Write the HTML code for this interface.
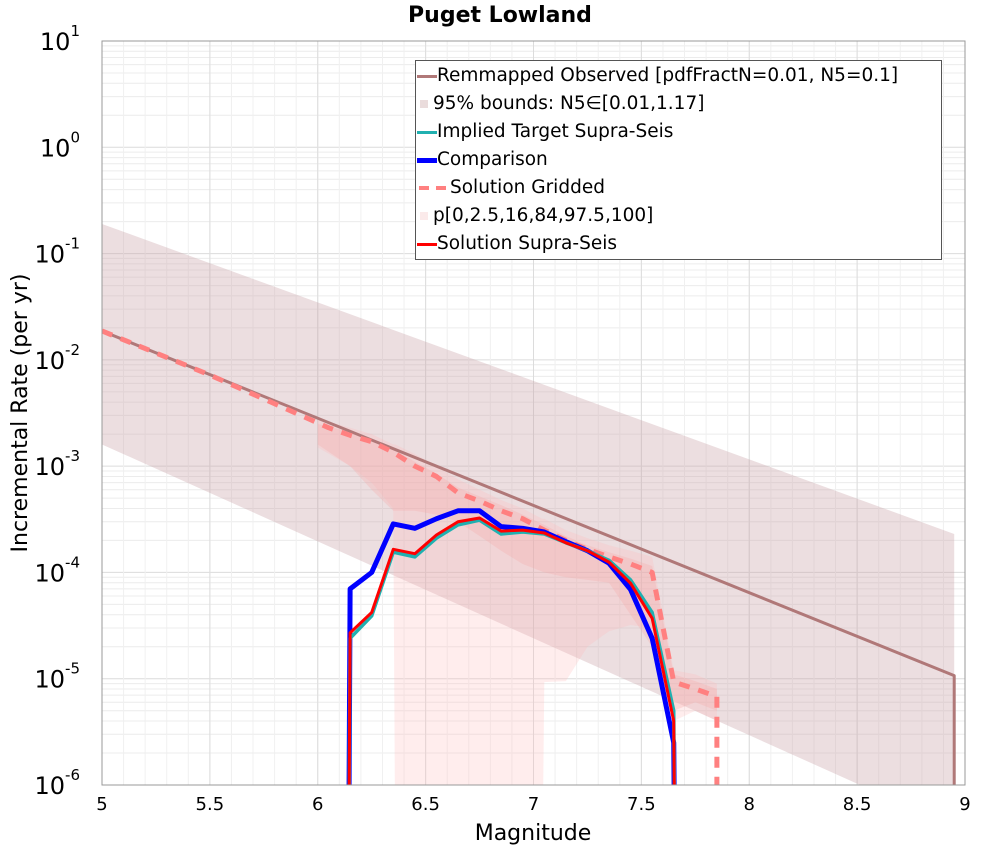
<!DOCTYPE html>
<html><head><meta charset="utf-8"><style>
html,body{margin:0;background:#fff;font-family:"DejaVu Sans","Liberation Sans",sans-serif;width:1000px;height:850px;overflow:hidden;position:relative}
svg text{font-family:"DejaVu Sans","Liberation Sans",sans-serif}
</style></head><body>
<svg id="c" width="1000" height="850" xmlns="http://www.w3.org/2000/svg" style="position:absolute;left:0;top:0"></svg>
<script>
const xTicks=[5,5.5,6,6.5,7,7.5,8,8.5,9];
const xTickLabels=["5","5.5","6","6.5","7","7.5","8","8.5","9"];
const yDecades=[1,0,-1,-2,-3,-4,-5,-6];
const obsMags=[5,8.95,8.95];
const obsVals=[0.0187,1.07e-5,1e-8];
const boundMags=[5,8.95];
const boundUpper=[0.19,2.3e-4];
const boundLower=[1.6e-3,4e-7];
const outerMags=[6.0,6.15,6.25,6.35,6.36,6.45,6.55,6.65,6.75,6.85,6.95,7.04,7.05,7.15,7.25,7.35,7.45,7.55,7.65,7.75,7.85];
const outerUpper=[2.8e-3,2.3e-3,2.0e-3,1.6e-3,1.6e-3,1.3e-3,1.0e-3,7.5e-4,6e-4,4.8e-4,4e-4,3.2e-4,3.2e-4,2.5e-4,2.1e-4,1.8e-4,1.6e-4,1.4e-4,1.2e-5,1.1e-5,9e-6];
const outerLower=[1.5e-3,1e-3,7e-4,4e-4,1e-7,1e-7,1e-7,1e-7,1e-7,1e-7,1e-7,1e-7,9.3e-6,9.5e-6,2e-5,2.8e-5,3.2e-5,3e-5,4e-6,5e-6,4e-6];
const innerMags=[6.0,6.15,6.25,6.35,6.45,6.55,6.65,6.75,6.85,6.95,7.05,7.15,7.25,7.35,7.45,7.55,7.65,7.75,7.85];
const innerUpper=[2.5e-3,2.1e-3,1.8e-3,1.45e-3,1.1e-3,8.5e-4,6.3e-4,5.2e-4,4.3e-4,3.5e-4,2.8e-4,2.2e-4,1.8e-4,1.55e-4,1.35e-4,1.15e-4,1.1e-5,9.5e-6,8e-6];
const innerLower=[1.6e-3,1e-3,6e-4,3.8e-4,3.8e-4,3.5e-4,3e-4,2.2e-4,1.6e-4,1.2e-4,1e-4,9e-5,8.5e-5,8e-5,4e-5,2e-5,5e-6,6e-6,5e-6];
const gridMags=[5,5.5,6.05,6.15,6.25,6.35,6.45,6.55,6.65,6.75,6.85,6.95,7.05,7.15,7.25,7.35,7.45,7.55,7.65,7.75,7.85,7.85];
const gridVals=[0.0187,7.2e-3,2.3e-3,1.95e-3,1.7e-3,1.35e-3,1.0e-3,8e-4,5.6e-4,4.7e-4,3.8e-4,3.2e-4,2.5e-4,2.0e-4,1.65e-4,1.4e-4,1.2e-4,1.0e-4,9.3e-6,8e-6,6.8e-6,1e-8];
const supMags=[6.14,6.15,6.25,6.35,6.45,6.55,6.65,6.75,6.85,6.95,7.05,7.15,7.25,7.35,7.45,7.55,7.65,7.66];
const compVals=[1e-8,7e-5,1.0e-4,2.86e-4,2.6e-4,3.2e-4,3.8e-4,3.8e-4,2.7e-4,2.6e-4,2.4e-4,1.95e-4,1.6e-4,1.22e-4,6.9e-5,2.4e-5,2.5e-6,1e-8];
const targetVals=[1e-8,2.4e-5,3.9e-5,1.55e-4,1.4e-4,2.1e-4,2.8e-4,3.1e-4,2.3e-4,2.4e-4,2.3e-4,1.9e-4,1.6e-4,1.3e-4,8.5e-5,4.2e-5,5e-6,1e-8];
const solVals=[1e-8,2.7e-5,4.2e-5,1.65e-4,1.5e-4,2.25e-4,3.0e-4,3.25e-4,2.45e-4,2.5e-4,2.35e-4,1.9e-4,1.6e-4,1.25e-4,7.9e-5,3.7e-5,4e-6,1e-8];

const L=102,R=965,T=41,B=785;
const X=m=>L+(m-5)/4*(R-L);
const Y=v=>T+(1-Math.log10(v))/7*(B-T);
const NS="http://www.w3.org/2000/svg";
const svg=document.getElementById('c');
function mk(tag,attrs,parent){const e=document.createElementNS(NS,tag);for(const k in attrs)e.setAttribute(k,attrs[k]);(parent||svg).appendChild(e);return e;}
const defs=mk('defs',{});
const cp=mk('clipPath',{id:'clip'},defs);mk('rect',{x:L,y:T,width:R-L,height:B-T},cp);

const grid=mk('g',{});


for(const d of yDecades){ if(d>-6){for(let k=2;k<10;k++){const y=Y(k*Math.pow(10,d-1));mk('line',{x1:L,x2:R,y1:y,y2:y,stroke:'#ececec','stroke-width':1},grid);}}
  const y=Y(Math.pow(10,d));mk('line',{x1:L,x2:R,y1:y,y2:y,stroke:'#dcdcdc','stroke-width':1},grid);}
for(let m=5;m<=9.001;m+=0.1){const x=X(m);mk('line',{x1:x,x2:x,y1:T,y2:B,stroke:'#f0f0f0','stroke-width':1},grid);}
for(const t of xTicks){const x=X(t);mk('line',{x1:x,x2:x,y1:T,y2:B,stroke:'#dcdcdc','stroke-width':1},grid);}

const plot=mk('g',{'clip-path':'url(#clip)'});
function band(mags,up,lo,fill,name){
  let pts=mags.map((m,i)=>X(m)+','+Y(up[i]));
  for(let i=mags.length-1;i>=0;i--)pts.push(X(mags[i])+','+Y(lo[i]));
  const p=mk('polygon',{points:pts.join(' '),fill:fill},plot);
  
  
}
function line(mags,vals,stroke,w,name,dash){
  const a={points:mags.map((m,i)=>X(m)+','+Y(vals[i])).join(' '),fill:'none',stroke:stroke,'stroke-width':w,'stroke-linejoin':'round'};
  if(dash)a['stroke-dasharray']=dash;
  const p=mk('polyline',a,plot);
  
  
}
band(boundMags.concat([8.95]),boundUpper.concat([1e-9]),boundLower.concat([1e-9]),'rgba(200,160,165,0.35)','observed-95-bounds');
band(outerMags,outerUpper,outerLower,'rgba(255,185,185,0.25)','percentile-outer-band');
band(innerMags,innerUpper,innerLower,'rgba(245,170,170,0.3)','percentile-inner-band');
line(obsMags,obsVals,'#b07878',3,'remapped-observed-line');
line(gridMags,gridVals,'#ff8080',5,'solution-gridded-line','11,9');
line(supMags,compVals,'#0000ff',5,'comparison-line');
line(supMags,targetVals,'#20b0b0',3.5,'implied-target-line');
line(supMags,solVals,'#ff0000',3,'solution-supra-seis-line');

mk('rect',{x:L,y:T,width:R-L,height:B-T,fill:'none',stroke:'#999','stroke-width':1});
xTicks.forEach((t,i)=>{const tx=mk('text',{x:X(t),y:810,'font-size':18,'text-anchor':'middle',fill:'#000'});tx.textContent=xTickLabels[i];
  
  });
yDecades.forEach(d=>{const tx=mk('text',{x:80,y:Y(Math.pow(10,d))+9,'font-size':24,'text-anchor':'end',fill:'#000'});tx.textContent='10';
  
  
  const s=mk('tspan',{dy:-14,'font-size':15},tx);s.textContent=String(d);});
const title=mk('text',{x:500,y:22,'font-size':22,'font-weight':'bold','text-anchor':'middle',fill:'#000'});
title.textContent='Puget Lowland';


const xt=mk('text',{x:533,y:840,'font-size':22,'text-anchor':'middle',fill:'#000'});
xt.textContent='Magnitude';


const yt=mk('text',{x:0,y:0,'font-size':22,'text-anchor':'middle',fill:'#000',transform:'translate(27,413) rotate(-90)'});
yt.textContent='Incremental Rate (per yr)';


</script>
<div style="position:absolute;left:415px;top:60px;width:525px;height:197px;border:1.5px solid #555;background:#fff;font-family:'DejaVu Sans','Liberation Sans',sans-serif;font-size:18.5px;line-height:28px;padding-top:1px;white-space:nowrap">
<div><span style="display:inline-block;width:20px;height:3px;background:#b07878;vertical-align:middle;margin-left:1px"></span>Remmapped Observed [pdfFractN=0.01, N5=0.1]</div>
<div><span style="display:inline-block;width:8px;height:8px;background:#eadcdc;vertical-align:middle;margin:0 5px 0 4px"></span>95% bounds: N5∈[0.01,1.17]</div>
<div><span style="display:inline-block;width:20px;height:3px;background:#20b0b0;vertical-align:middle;margin-left:1px"></span>Implied Target Supra-Seis</div>
<div><span style="display:inline-block;width:20px;height:5px;background:#00f;vertical-align:middle;margin-left:1px"></span>Comparison</div>
<div><span style="display:inline-block;width:10px;height:4px;background:#ff8080;vertical-align:middle;margin:0 7px 0 3px"></span><span style="display:inline-block;width:10px;height:4px;background:#ff8080;vertical-align:middle;margin-right:4px"></span>Solution Gridded</div>
<div><span style="display:inline-block;width:8px;height:8px;background:#fbeaea;vertical-align:middle;margin:0 5px 0 4px"></span>p[0,2.5,16,84,97.5,100]</div>
<div><span style="display:inline-block;width:20px;height:3px;background:#f00;vertical-align:middle;margin-left:1px"></span>Solution Supra-Seis</div>
</div>
</body></html>
